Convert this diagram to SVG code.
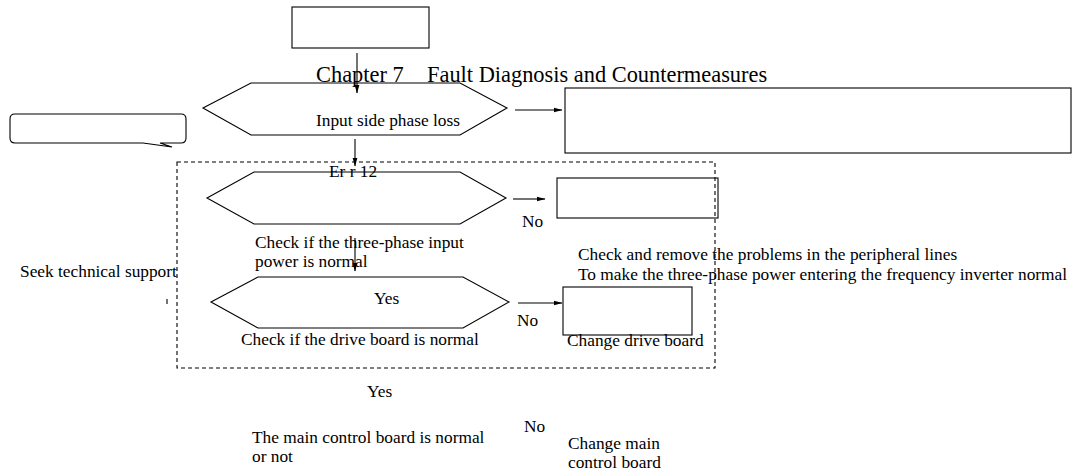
<svg xmlns="http://www.w3.org/2000/svg" width="1075" height="472" viewBox="0 0 1075 472">
<style>
.s{fill:none;stroke:#000;stroke-width:1.1}
.d{fill:none;stroke:#000;stroke-width:1.1;stroke-dasharray:4 3}
.c{stroke:#000;stroke-width:1.1;fill:none}
text{font-family:"Liberation Serif","Times New Roman",serif;font-size:17.33px;fill:#000}
.t{font-size:22.4px}
</style>
<defs>
<marker id="ah" markerWidth="9" markerHeight="6" refX="8.5" refY="3" orient="auto" markerUnits="userSpaceOnUse">
<path d="M0,0.5 L9,3 L0,5.5 z" fill="#000"/>
</marker>
</defs>
<rect width="1075" height="472" fill="#fff"/>
<g id="group-frame">
<rect class="d" x="177" y="162" width="538" height="206"/>
</g>
<g id="node-start">
<rect class="s" x="292" y="7" width="137" height="41"/>
</g>
<g id="title">
<text class="t" y="82"><tspan x="316">Chapter 7</tspan><tspan x="427">Fault Diagnosis and Countermeasures</tspan></text>
</g>
<g id="node-phase-loss">
<polygon class="s" points="203,108 251,83 460,83 507,108 460,135 251,135"/>
<text x="316" y="126">Input side phase loss</text>
</g>
<g id="node-result-box">
<rect class="s" x="565" y="88" width="506" height="65"/>
</g>
<g id="node-callout">
<path class="s" d="M15,114 H181 Q186,114 186,119 V138 Q186,143 181,143 H160 L172,147 L143,143 H15 Q10,143 10,138 V119 Q10,114 15,114 Z"/>
</g>
<g id="node-check-power">
<polygon class="s" points="207,198 254,172 460,172 506,198 460,224 254,224"/>
<text x="329" y="177">Er r 12</text>
<text x="255" y="248">Check if the three-phase input</text>
<text x="255" y="267">power is normal</text>
</g>
<g id="node-peripheral">
<rect class="s" x="557" y="178" width="161" height="40"/>
<text x="578" y="260">Check and remove the problems in the peripheral lines</text>
<text x="578" y="280">To make the three-phase power entering the frequency inverter normal</text>
</g>
<g id="node-support">
<text x="20" y="277">Seek technical support</text>
<line class="s" x1="167" y1="299" x2="167" y2="304"/>
</g>
<g id="node-check-drive">
<polygon class="s" points="211,302 258,277 463,277 509,302 463,328 258,328"/>
<text x="374" y="304">Yes</text>
<text x="241" y="345">Check if the drive board is normal</text>
</g>
<g id="node-change-drive">
<rect class="s" x="563" y="287" width="129" height="48"/>
<text x="567" y="346">Change drive board</text>
</g>
<g id="node-main-board">
<text x="367" y="397">Yes</text>
<text x="252" y="443">The main control board is normal</text>
<text x="252" y="462">or not</text>
</g>
<g id="node-change-main">
<text x="524" y="432">No</text>
<text x="568" y="449">Change main</text>
<text x="568" y="468">control board</text>
</g>
<g id="connectors">
<line class="c" x1="357" y1="53" x2="357" y2="93" marker-end="url(#ah)"/>
<line class="c" x1="515" y1="110" x2="562" y2="110" marker-end="url(#ah)"/>
<line class="c" x1="355" y1="139" x2="355" y2="166" marker-end="url(#ah)"/>
<line class="c" x1="513" y1="199" x2="545" y2="199" marker-end="url(#ah)"/>
<text x="522" y="227">No</text>
<line class="c" x1="355" y1="238" x2="355" y2="271" marker-end="url(#ah)"/>
<line class="c" x1="518" y1="303" x2="562" y2="303" marker-end="url(#ah)"/>
<text x="517" y="326">No</text>
</g>
</svg>
